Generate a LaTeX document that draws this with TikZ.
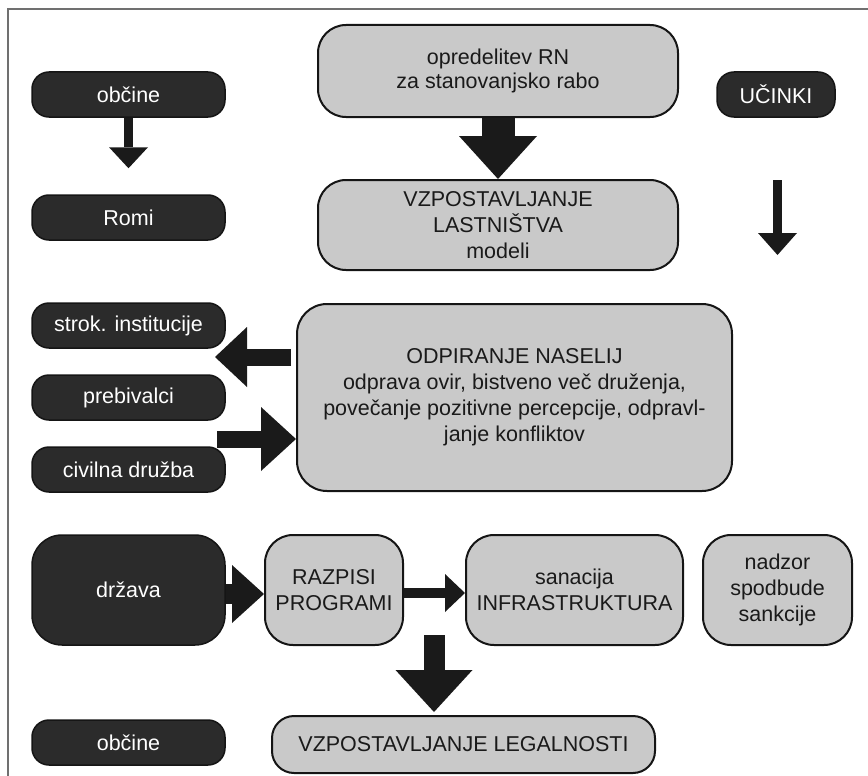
\documentclass[tikz,border=0pt]{standalone}
\usepackage{fontspec}
\setmainfont{Liberation Sans}
\usetikzlibrary{arrows.meta,calc}
\definecolor{darkbox}{HTML}{2B2B2B}
\definecolor{darkline}{HTML}{151515}
\definecolor{lightbox}{HTML}{C9C9C9}
\definecolor{framegray}{HTML}{707070}
\definecolor{arrowc}{HTML}{1A1A1A}
\definecolor{textdark}{HTML}{1A1A1A}
\begin{document}
\begin{tikzpicture}[x=1pt,y=-1pt,
  base/.style={inner sep=0pt, align=center, font=\fontsize{21.5}{26}\selectfont},
  darkb/.style={base, fill=darkbox, draw=darkline, line width=1.5pt, text=white, rounded corners=17pt},
  lightb/.style={base, fill=lightbox, draw=darkline, line width=2pt, text=textdark, rounded corners=28pt},
  wh/.style 2 args={minimum width=#1pt, minimum height=#2pt},
  bar/.style args={#1/#2/#3}{draw=arrowc, line width=#1pt, -{Triangle[width=#2pt,length=#3pt,line width=0pt]}}
]
\useasboundingbox (0,0) rectangle (868,776);
\draw[framegray, line width=1.5pt] (8,776) -- (8,9) -- (868,9);

% top row
\node[darkb, wh={193}{45}] (obc1) at (128.5,94.5) {občine};
\node[darkb, wh={193}{45}] (romi) at (128.5,217.5) {Romi};
\node[lightb, wh={360}{92}] (opred) at (498,71) {\raisebox{-3pt}{\shortstack{opredelitev RN\\[1pt]za stanovanjsko rabo}}};
\node[lightb, wh={360}{90}] (vzpl) at (498,225) {VZPOSTAVLJANJE\\LASTNIŠTVA\\modeli};
\node[darkb, wh={118}{45}] (ucinki) at (776,94.5) {UČINKI};

% middle row
\node[darkb, wh={193}{45}] (strok) at (128.5,325.5) {strok. institucije};
\node[darkb, wh={193}{45}] (preb) at (128.5,397.5) {prebivalci};
\node[darkb, wh={193}{45}] (civ) at (128.5,469.5) {civilna družba};
\node[lightb, wh={435}{187}, rounded corners=30pt] (odp) at (514.5,397.5)
  {ODPIRANJE NASELIJ\\odprava ovir, bistveno več druženja,\\povečanje pozitivne percepcije, odpravl-\\janje konfliktov};

% bottom rows
\node[darkb, wh={193}{110}, rounded corners=30pt] (drz) at (128.5,590) {država};
\node[lightb, wh={138}{110}] (razp) at (334,590) {RAZPISI\\PROGRAMI};
\node[lightb, wh={217}{110}] (san) at (574.5,590) {sanacija\\INFRASTRUKTURA};
\node[lightb, wh={149}{110}] (nadz) at (777.5,590) {nadzor\\spodbude\\sankcije};
\node[darkb, wh={193}{45}] (obc2) at (128.5,742.5) {občine};
\node[lightb, wh={383}{57}, rounded corners=22pt] (legal) at (463.5,744.5) {VZPOSTAVLJANJE LEGALNOSTI};

% free ends
\coordinate (uA) at (777.5,180);
\coordinate (uB) at (777.5,255);
\coordinate (lA) at (291,357);
\coordinate (lB) at (215,357);
\coordinate (rA) at (217,439);
\coordinate (dA) at (434,635);
\coordinate (dB) at (434,712);

% arrows
\draw[bar=9/39/21, shorten >=26pt] (obc1.south) -- (romi.north);
\draw[bar=33/78/43] (opred.south) -- (vzpl.north);
\draw[bar=9/39/22] (uA) -- (uB);
\draw[bar=17/60/32] (lA) -- (lB);
\draw[bar=17/64/35] (rA) -- (odp.west |- rA);
\draw[bar=20/58/32] ([yshift=-4pt]drz.east) -- ([yshift=-4pt]razp.west);
\draw[bar=10/38/20] ([yshift=-3pt]razp.east) -- ([yshift=-3pt]san.west);
\draw[bar=21/77/42] (dA) -- (dB);
\end{tikzpicture}
\end{document}
